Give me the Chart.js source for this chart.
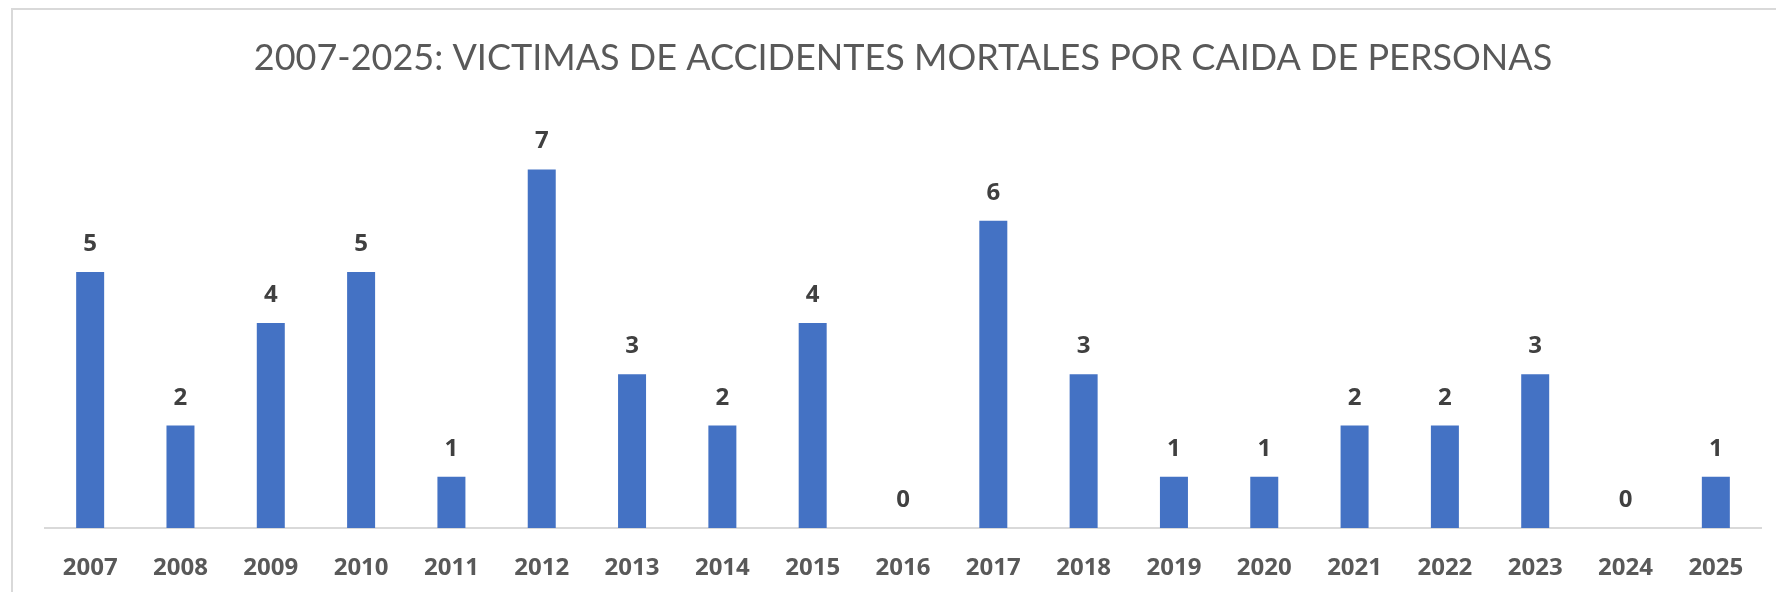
<!DOCTYPE html>
<html>
<head>
<meta charset="utf-8">
<script src="https://cdn.jsdelivr.net/npm/chart.js@4.4.1/dist/chart.umd.min.js"></script>
<style>
  html, body { margin: 0; padding: 0; background: #fff; }
  #wrap { width: 1776px; height: 592px; }
</style>
</head>
<body>
<div id="wrap"><canvas id="victimas-chart"></canvas></div>
<script>
const years = ["2007", "2008", "2009", "2010", "2011", "2012", "2013", "2014", "2015", "2016",
  "2017", "2018", "2019", "2020", "2021", "2022", "2023", "2024", "2025"]
const victimas = [5, 2, 4, 5, 1, 7, 3, 2, 4, 0, 6, 3, 1, 1, 2, 2, 3, 0, 1]
const chartTitle = "2007-2025: VICTIMAS DE ACCIDENTES MORTALES POR CAIDA DE PERSONAS"

const canvas = document.getElementById("victimas-chart")

// white background + the light grey frame of the Excel chart
const frame = {
  id: 'frame',
  beforeDraw: (chart) => {
    const {ctx} = chart
    ctx.save()
    ctx.fillStyle = '#ffffff'
    ctx.fillRect(0, 0, chart.width, chart.height)
    ctx.strokeStyle = '#d9d9d9'
    ctx.lineWidth = 2
    ctx.beginPath()
    ctx.moveTo(12, chart.height)
    ctx.lineTo(12, 9)
    ctx.lineTo(chart.width, 9)
    ctx.stroke()
    ctx.restore()
  }
}

// value labels above every bar
const valueLabels = {
  id: 'valueLabels',
  afterDatasetsDraw: (chart) => {
    const {ctx} = chart
    const meta = chart.getDatasetMeta(0)
    ctx.save()
    ctx.font = 'bold 24px "Open Sans"'
    ctx.fillStyle = '#404040'
    ctx.textAlign = 'center'
    ctx.textBaseline = 'alphabetic'
    meta.data.forEach((bar, i) => {
      ctx.fillText(String(chart.data.datasets[0].data[i]), bar.x, bar.y - 21)
    })
    ctx.restore()
  }
}

new Chart(canvas, {
  type: 'bar',
  data: {
    labels: years,
    datasets: [{
      data: victimas,
      backgroundColor: '#4472c4',
      borderWidth: 0,
      categoryPercentage: 1,
      barPercentage: 0.31
    }]
  },
  options: {
    responsive: true,
    maintainAspectRatio: false,
    animation: false,
    layout: {
      padding: { left: 45, right: 15, top: 0, bottom: 0 }
    },
    plugins: {
      legend: { display: false },
      tooltip: { enabled: false },
      title: {
        display: true,
        text: chartTitle,
        color: '#595959',
        font: { family: 'Lato', size: 36, weight: 'normal' },
        padding: { top: 37, bottom: 38 }
      }
    },
    scales: {
      y: {
        display: false,
        min: 0,
        max: 8
      },
      x: {
        grid: { display: false, drawTicks: false },
        border: { display: true, color: '#d9d9d9', width: 2 },
        ticks: {
          color: '#595959',
          font: { family: 'Open Sans', size: 24, weight: 'bold' },
          padding: 26,
          maxRotation: 0,
          autoSkip: false
        },
        afterFit: (scale) => { scale.height = 64 }
      }
    }
  },
  plugins: [frame, valueLabels]
})
</script>
</body>
</html>
